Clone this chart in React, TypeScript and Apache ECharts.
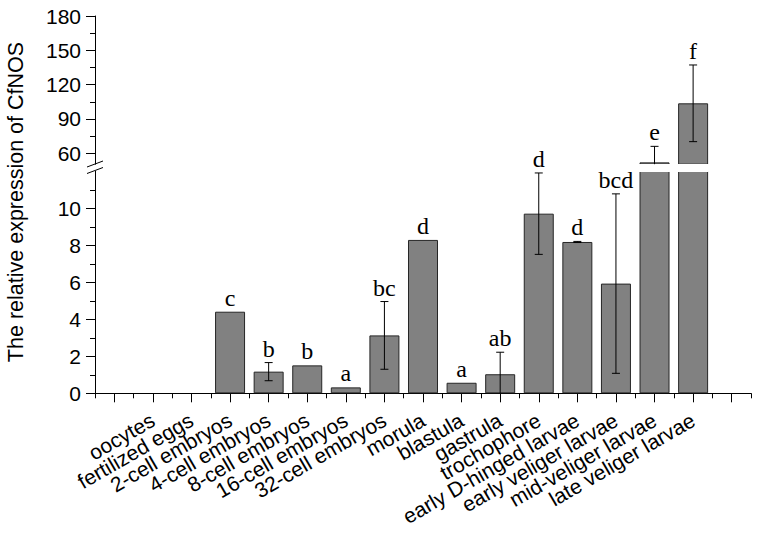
import React, { useEffect, useRef } from "react";
import * as echarts from "echarts";

const stages = [
  "oocytes",
  "fertilized eggs",
  "2-cell embryos",
  "4-cell embryos",
  "8-cell embryos",
  "16-cell embryos",
  "32-cell embryos",
  "morula",
  "blastula",
  "gastrula",
  "trochophore",
  "early D-hinged larvae",
  "early veliger larvae",
  "mid-veliger larvae",
  "late veliger larvae",
];
const means = [0, 0, 4.41, 1.17, 1.51, 0.32, 3.13, 8.29, 0.57, 1.03, 9.71, 8.18, 5.93, 52.1, 103.7];
const errors = [0, 0, 0, 0.49, 0, 0, 1.83, 0, 0, 1.19, 2.2, 0.03, 4.85, 14, 33.5];
const letters = ["", "", "c", "b", "b", "a", "bc", "d", "a", "ab", "d", "d", "bcd", "e", "f"];

const lowerTicks = [0, 2, 4, 6, 8, 10];
const upperTicks = [60, 90, 120, 150, 180];
const upperMinorTicks = [75, 105, 135, 165];

const LOW_MIN = 0;
const LOW_MAX = 12;
const UP_MIN = 50.5;
const UP_MAX = 180;

const SANS = '"Liberation Sans", Arial, sans-serif';
const SERIF = '"Liberation Serif", "Times New Roman", serif';

export default function App() {
  const ref = useRef<HTMLDivElement>(null);

  useEffect(() => {
    if (!ref.current) return;
    const chart = echarts.init(ref.current, null, { renderer: "svg" });

    const slots = ["", ...stages, ""];
    const lowerBars = [null, ...means.map((v) => (v > 0 ? v : null)), null];
    const upperBars = [null, ...means.map((v) => (v > LOW_MAX ? v : null)), null];
    const customData = stages.map((_, i) => [i + 1, means[i], errors[i]]);

    const makeRender = (lo: number, hi: number, inGrid: (v: number) => boolean) =>
      (params: any, api: any) => {
        const idx = params.dataIndex;
        const x = api.value(0);
        const v = api.value(1);
        const e = api.value(2);
        const children: any[] = [];
        if (!inGrid(v)) return { type: "group", children };
        const top = v + e;
        const bot = v - e;
        const capW = 4;
        const ls = { stroke: "#000", lineWidth: 1 };
        if (e > 0) {
          const t = Math.min(top, hi);
          const b = Math.max(bot, lo);
          const pt = api.coord([x, t]);
          const pb = api.coord([x, b]);
          children.push({ type: "line", shape: { x1: pt[0], y1: pt[1], x2: pb[0], y2: pb[1] }, style: ls });
          if (top <= hi) {
            children.push({ type: "line", shape: { x1: pt[0] - capW, y1: pt[1], x2: pt[0] + capW, y2: pt[1] }, style: ls });
          }
          if (bot >= lo) {
            children.push({ type: "line", shape: { x1: pb[0] - capW, y1: pb[1], x2: pb[0] + capW, y2: pb[1] }, style: ls });
          }
        }
        const lt = letters[idx];
        if (lt) {
          const p = api.coord([x, Math.min(top, hi)]);
          children.push({
            type: "text",
            x: p[0],
            y: p[1] - 2,
            style: {
              text: lt,
              fill: "#000",
              font: `24px ${SERIF}`,
              align: "center",
              verticalAlign: "bottom",
              textAlign: "center",
              textVerticalAlign: "bottom",
            },
          });
        }
        return { type: "group", children };
      };

    const axisLineStyle = { color: "#000", width: 1 };
    const yLabel = { margin: 14, color: "#000", fontSize: 21, fontFamily: SANS };

    chart.setOption({
      animation: false,
      grid: [
        { left: 95, top: 171.3, width: 656, height: 222 },
        { left: 95, top: 16, width: 656, height: 148.2 },
      ],
      xAxis: [
        {
          type: "category",
          gridIndex: 0,
          position: "bottom",
          data: slots,
          boundaryGap: true,
          axisLine: { show: true, lineStyle: axisLineStyle },
          axisTick: { show: true, alignWithLabel: true, length: 9, lineStyle: axisLineStyle },
          axisLabel: {
            interval: 0,
            rotate: 30,
            margin: 25,
            color: "#000",
            fontSize: 21,
            fontFamily: SANS,
          },
          splitLine: { show: false },
        },
        {
          type: "category",
          gridIndex: 0,
          position: "bottom",
          data: slots,
          boundaryGap: true,
          axisLine: { show: false },
          axisTick: { show: true, alignWithLabel: false, interval: 0, length: 5, lineStyle: axisLineStyle },
          axisLabel: { show: false },
          splitLine: { show: false },
        },
        {
          type: "category",
          gridIndex: 1,
          data: slots,
          boundaryGap: true,
          show: false,
        },
      ],
      yAxis: [
        {
          type: "value",
          gridIndex: 0,
          position: "left",
          min: LOW_MIN,
          max: LOW_MAX,
          interval: 2,
          axisLine: { show: true, lineStyle: axisLineStyle },
          axisTick: { show: true, length: 9, customValues: lowerTicks, lineStyle: axisLineStyle },
          minorTick: { show: true, splitNumber: 2, length: 5, lineStyle: axisLineStyle },
          axisLabel: {
            ...yLabel,
            formatter: (v: number) => (lowerTicks.includes(v) ? String(v) : ""),
          },
          splitLine: { show: false },
        },
        {
          type: "value",
          gridIndex: 1,
          position: "left",
          min: UP_MIN,
          max: UP_MAX,
          axisLine: { show: true, lineStyle: axisLineStyle },
          axisTick: { show: true, length: 9, customValues: upperTicks, lineStyle: axisLineStyle },
          axisLabel: { ...yLabel, customValues: upperTicks },
          splitLine: { show: false },
        },
        {
          type: "value",
          gridIndex: 1,
          position: "left",
          min: UP_MIN,
          max: UP_MAX,
          axisLine: { show: false },
          axisTick: { show: true, length: 5, customValues: upperMinorTicks, lineStyle: axisLineStyle },
          axisLabel: { show: false },
          splitLine: { show: false },
        },
      ],
      series: [
        {
          type: "bar",
          xAxisIndex: 0,
          yAxisIndex: 0,
          data: lowerBars,
          barWidth: 30,
          z: 2,
          itemStyle: { color: "#818181", borderColor: "#262626", borderWidth: 1 },
        },
        {
          type: "bar",
          xAxisIndex: 2,
          yAxisIndex: 1,
          data: upperBars,
          barWidth: 30,
          z: 2,
          itemStyle: { color: "#818181", borderColor: "#262626", borderWidth: 1 },
        },
        {
          type: "custom",
          xAxisIndex: 0,
          yAxisIndex: 0,
          data: customData,
          encode: { x: 0, y: 1 },
          z: 5,
          renderItem: makeRender(LOW_MIN, LOW_MAX, (v) => v <= LOW_MAX),
        },
        {
          type: "custom",
          xAxisIndex: 2,
          yAxisIndex: 1,
          data: customData,
          encode: { x: 0, y: 1 },
          z: 5,
          renderItem: makeRender(UP_MIN, UP_MAX, (v) => v > LOW_MAX),
        },
      ],
      graphic: [
        {
          type: "text",
          x: 16,
          y: 202,
          rotation: Math.PI / 2,
          silent: true,
          style: {
            text: "The relative expression of CfNOS",
            fill: "#000",
            font: `21.5px ${SANS}`,
            align: "center",
            verticalAlign: "middle",
            textAlign: "center",
            textVerticalAlign: "middle",
          },
        },
        {
          type: "rect",
          z: 3,
          silent: true,
          shape: { x: 637.5, y: 164, width: 71, height: 7.9 },
          style: { fill: "#fff" },
        },
        {
          type: "line",
          z: 6,
          silent: true,
          shape: { x1: 87, y1: 167, x2: 103, y2: 161 },
          style: { stroke: "#000", lineWidth: 1 },
        },
        {
          type: "line",
          z: 6,
          silent: true,
          shape: { x1: 87, y1: 173.5, x2: 103, y2: 167.5 },
          style: { stroke: "#000", lineWidth: 1 },
        },
      ],
    });

    return () => chart.dispose();
  }, []);

  return (
    <div
      ref={ref}
      style={{ position: "fixed", left: 0, top: 0, width: 759, height: 535, background: "#fff" }}
    />
  );
}
